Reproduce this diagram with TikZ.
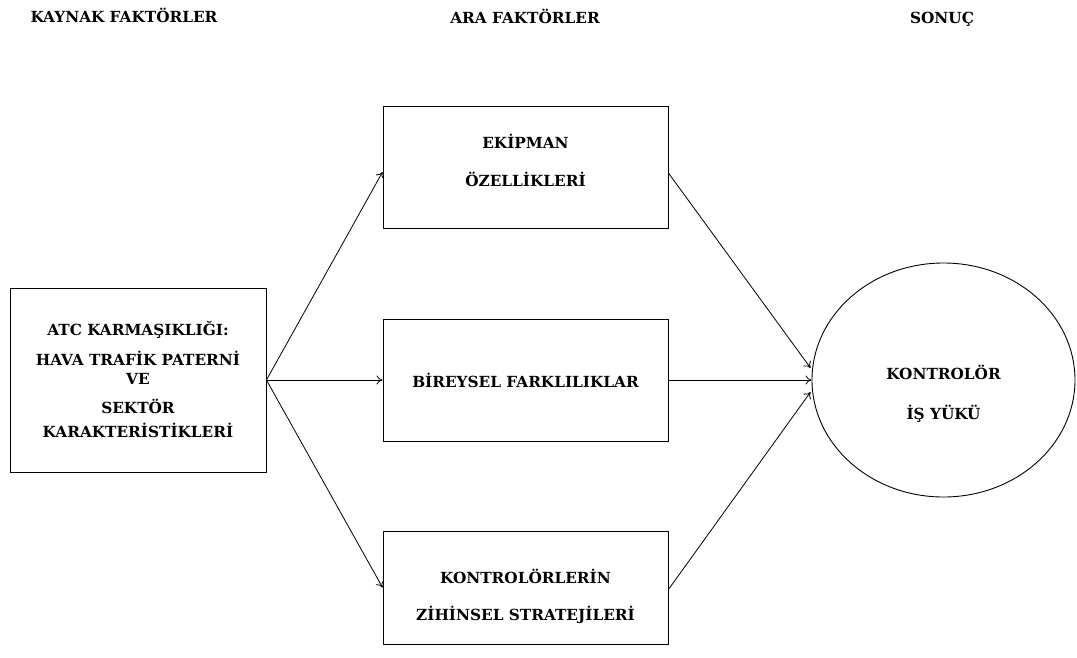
\documentclass[tikz,border=0pt]{standalone}
\usepackage{fontspec}
\setmainfont{DejaVu Serif}
\usetikzlibrary{calc, shapes.geometric, arrows.meta}
\tikzset{
    factor text/.style={
        font=\bfseries\fontsize{15.3}{18}\selectfont, align=center
    },
    factor box/.style={
        factor text, draw=black, line width=0.9pt, rectangle, inner sep=0pt
    },
    result ellipse/.style={
        factor text, draw=black, line width=0.9pt, ellipse, inner sep=0pt,
        minimum width=263pt, minimum height=234pt
    },
    factor arrow/.style={
        line width=0.8pt, -{To[length=6pt, width=9pt]}
    }
}

\begin{document}
\begin{tikzpicture}[x=1pt, y=-1pt]

\useasboundingbox (0,0) rectangle (1077,657);

% Encabezados de las columnas.
\node[factor text, anchor=base] (HeadSource) at (124,22) {KAYNAK FAKTÖRLER};
\node[factor text, anchor=base] (HeadMiddle) at (525,23) {ARA FAKTÖRLER};
\node[factor text, anchor=base] (HeadResult) at (942,23) {SONUÇ};

% Cajas de los factores.
\node[factor box, minimum width=256pt, minimum height=184pt]
    (SourceBox) at (138,380)
    {ATC KARMAŞIKLIĞI:\\[12pt] HAVA TRAFİK PATERNİ\\[1pt] VE\\[11pt] SEKTÖR\\[6pt] KARAKTERİSTİKLERİ};
\node[factor box, minimum width=285pt, minimum height=122pt]
    (EquipmentBox) at (525.5,167)
    {\raisebox{4pt}[\height][\depth]{\begin{tabular}{@{}c@{}}EKİPMAN\\[19pt] ÖZELLİKLERİ\end{tabular}}};
\node[factor box, minimum width=285pt, minimum height=122pt]
    (IndividualBox) at (525.5,380)
    {BİREYSEL FARKLILIKLAR};
\node[factor box, minimum width=285pt, minimum height=113pt]
    (StrategyBox) at (525.5,587.5)
    {\raisebox{-10pt}[\height][\depth]{\begin{tabular}{@{}c@{}}KONTROLÖRLERİN\\[17pt] ZİHİNSEL STRATEJİLERİ\end{tabular}}};

% Elipse del resultado.
\node[result ellipse] (WorkloadEllipse) at (943.5,380)
    {\raisebox{-15pt}[\height][\depth]{\begin{tabular}{@{}c@{}}KONTROLÖR\\[20pt] İŞ YÜKÜ\end{tabular}}};

% Puntos de llegada sobre la elipse.
\coordinate (WorkloadTop) at ($(WorkloadEllipse.west)+(-1,-12)$);
\coordinate (WorkloadBottom) at ($(WorkloadEllipse.west)+(-1,12)$);

% Flechas desde la fuente hacia los factores intermedios.
\draw[factor arrow] (SourceBox.east) -- ($(EquipmentBox.west)+(0,5)$);
\draw[factor arrow] (SourceBox.east) -- (IndividualBox.west);
\draw[factor arrow] (SourceBox.east) -- (StrategyBox.west);

% Flechas hacia la carga de trabajo.
\draw[factor arrow] ($(EquipmentBox.east)+(0,6)$) -- (WorkloadTop);
\draw[factor arrow] (IndividualBox.east) -- (WorkloadEllipse.west);
\draw[factor arrow] ($(StrategyBox.east)+(0,2)$) -- (WorkloadBottom);

\end{tikzpicture}
\end{document}
